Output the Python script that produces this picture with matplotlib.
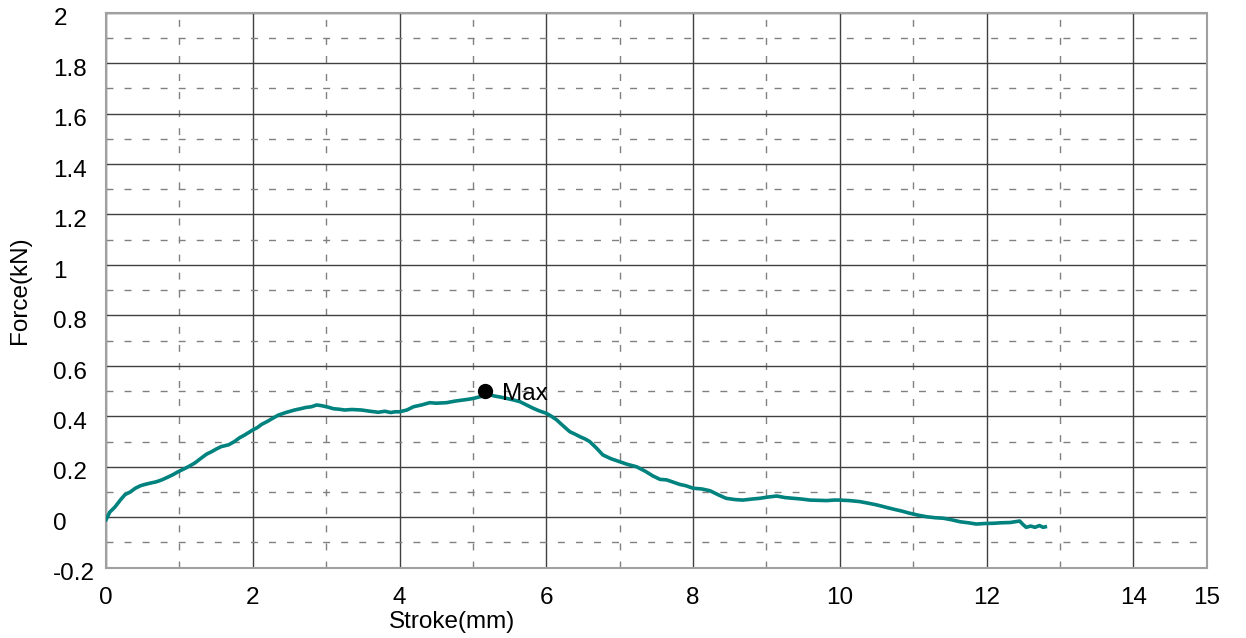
import numpy as np
import matplotlib.pyplot as plt
import matplotlib.transforms as mtransforms

plt.rcParams['font.family'] = ['Liberation Sans', 'DejaVu Sans']

# stroke (mm) / force (kN)
stroke = [0, 0.05, 0.12, 0.2, 0.26, 0.33, 0.4, 0.47, 0.53, 0.6, 0.68, 0.76, 0.85, 0.92, 0.98,
          1.05, 1.12, 1.21, 1.3, 1.37, 1.44, 1.5, 1.57, 1.67, 1.75, 1.82, 1.89, 2.0, 2.06, 2.12,
          2.2, 2.27, 2.35, 2.45, 2.57, 2.65, 2.72, 2.8, 2.87, 2.94, 3.03, 3.1, 3.18, 3.25, 3.35,
          3.48, 3.6, 3.71, 3.8, 3.88, 3.94, 4.0, 4.1, 4.19, 4.3, 4.41, 4.5, 4.64, 4.75, 4.87,
          4.95, 5.02, 5.1, 5.17, 5.23, 5.3, 5.38, 5.46, 5.55, 5.64, 5.73, 5.82, 5.9, 6.0, 6.07,
          6.14, 6.23, 6.32, 6.4, 6.46, 6.53, 6.59, 6.68, 6.77, 6.88, 7.0, 7.1, 7.23, 7.35, 7.45,
          7.55, 7.64, 7.72, 7.82, 7.9, 8.0, 8.12, 8.23, 8.35, 8.45, 8.57, 8.68, 8.8, 8.91, 9.02,
          9.14, 9.25, 9.36, 9.48, 9.59, 9.7, 9.82, 9.92, 10.0, 10.13, 10.27, 10.38, 10.5, 10.62,
          10.73, 10.85, 10.95, 11.07, 11.18, 11.3, 11.41, 11.52, 11.64, 11.75, 11.86, 11.97,
          12.09, 12.2, 12.32, 12.45, 12.5, 12.54, 12.6, 12.66, 12.72, 12.77, 12.8]
force = [-0.01, 0.02, 0.04, 0.07, 0.09, 0.10, 0.115, 0.125, 0.13, 0.135, 0.14, 0.148, 0.16, 0.17, 0.18,
         0.19, 0.2, 0.215, 0.235, 0.25, 0.26, 0.27, 0.28, 0.287, 0.30, 0.315, 0.326, 0.346, 0.355, 0.368,
         0.38, 0.392, 0.405, 0.415, 0.425, 0.43, 0.435, 0.438, 0.445, 0.442, 0.436, 0.43, 0.428, 0.425, 0.427,
         0.425, 0.42, 0.416, 0.42, 0.415, 0.418, 0.418, 0.425, 0.438, 0.445, 0.454, 0.452, 0.454, 0.46, 0.465,
         0.468, 0.472, 0.478, 0.483, 0.485, 0.48, 0.476, 0.471, 0.465, 0.458, 0.445, 0.432, 0.422, 0.412, 0.40,
         0.386, 0.362, 0.339, 0.328, 0.319, 0.31, 0.30, 0.275, 0.247, 0.232, 0.22, 0.21, 0.2, 0.182, 0.164,
         0.15, 0.148, 0.14, 0.13, 0.125, 0.115, 0.112, 0.105, 0.088, 0.075, 0.07, 0.068, 0.072, 0.075, 0.08,
         0.084, 0.078, 0.075, 0.072, 0.068, 0.067, 0.066, 0.068, 0.068, 0.066, 0.062, 0.056, 0.049, 0.04,
         0.032, 0.024, 0.016, 0.008, 0.002, -0.002, -0.004, -0.01, -0.018, -0.022, -0.027, -0.025,
         -0.024, -0.022, -0.021, -0.015, -0.03, -0.04, -0.035, -0.04, -0.033, -0.04, -0.038]

max_x = 5.17
max_y = 0.50

x_major = [0, 2, 4, 6, 8, 10, 12, 14]
x_minor = [1, 3, 5, 7, 9, 11, 13, 15]
x_minor_labels = ['', '', '', '', '', '', '', '15']
y_major = [-0.2, 0, 0.2, 0.4, 0.6, 0.8, 1, 1.2, 1.4, 1.6, 1.8, 2]
y_labels = ['-0.2', '0', '0.2', '0.4', '0.6', '0.8', '1', '1.2', '1.4', '1.6', '1.8', '2']
y_minor = [-0.1, 0.1, 0.3, 0.5, 0.7, 0.9, 1.1, 1.3, 1.5, 1.7, 1.9]

fs = 17.5

fig = plt.figure(figsize=(12.46, 6.38), dpi=100)
ax = fig.add_axes([0.0851, 0.1102, 0.8834, 0.870])

ax.plot(stroke, force, color='#00827f', lw=2.6, zorder=3)
ax.plot([max_x], [max_y], 'o', color='black', ms=10, zorder=4)
ax.text(max_x + 0.22, max_y - 0.01, 'Max', fontsize=fs, va='center', ha='left', zorder=5)

ax.set_xlim(0, 15)
ax.set_ylim(-0.2, 2)
ax.set_xticks(x_major)
ax.set_xticklabels([str(v) for v in x_major])
ax.set_xticks(x_minor, minor=True)
ax.set_xticklabels(x_minor_labels, minor=True)
ax.set_yticks(y_major)
ax.set_yticklabels(y_labels)
ax.set_yticks(y_minor, minor=True)

ax.grid(which='major', color='#404040', lw=1, ls='-')
ax.grid(which='minor', color='#808080', lw=1, ls=(0, (5, 8)))
ax.set_axisbelow(True)

ax.tick_params(which='both', length=0, labelsize=fs)
ax.tick_params(axis='x', which='both', pad=14)
ax.tick_params(axis='y', pad=38)
shift = mtransforms.ScaledTranslation(0, -3 / 72, fig.dpi_scale_trans)
for lab in ax.get_yticklabels():
    lab.set_horizontalalignment('left')
    lab.set_transform(lab.get_transform() + shift)

for s in ax.spines.values():
    s.set_color('#a0a0a0')
    s.set_linewidth(1.5)

ax.set_xlabel('Stroke(mm)', fontsize=fs, va='center')
ax.xaxis.set_label_coords(0.314, -0.098)
ax.set_ylabel('Force(kN)', fontsize=fs)
ax.yaxis.set_label_coords(-0.068, 0.5)

fig.savefig('out.png', dpi=100)
